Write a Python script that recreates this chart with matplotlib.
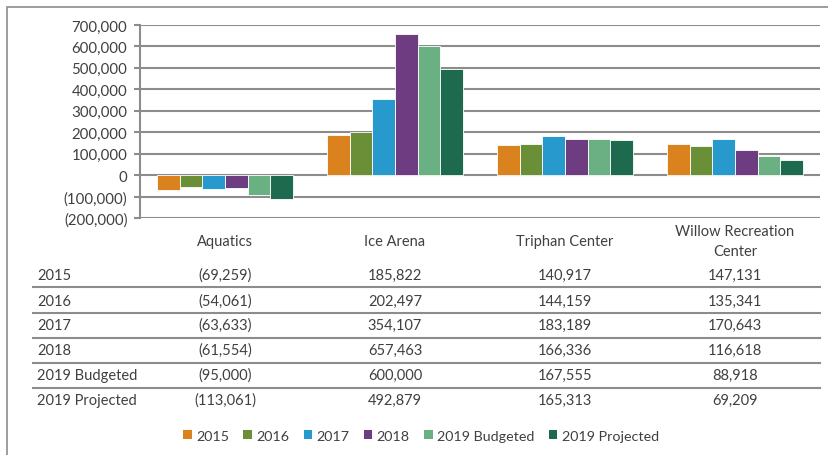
import matplotlib
matplotlib.use("Agg")
import matplotlib.pyplot as plt
import matplotlib.transforms as mtransforms
from matplotlib.patches import Rectangle, Patch
from matplotlib.lines import Line2D
import numpy as np

plt.rcParams['font.family'] = ['Lato', 'DejaVu Sans']

categories = ["Aquatics", "Ice Arena", "Triphan Center", "Willow Recreation\nCenter"]
series_names = ["2015", "2016", "2017", "2018", "2019 Budgeted", "2019 Projected"]
v2015 = [-69259, 185822, 140917, 147131]
v2016 = [-54061, 202497, 144159, 135341]
v2017 = [-63633, 354107, 183189, 170643]
v2018 = [-61554, 657463, 166336, 116618]
v2019b = [-95000, 600000, 167555, 88918]
v2019p = [-113061, 492879, 165313, 69209]
series = [v2015, v2016, v2017, v2018, v2019b, v2019p]
colors = ["#DA831E", "#6A8F37", "#2899CC", "#6E3C80", "#6AB083", "#1E6A4E"]
yticks = [-200000, -100000, 0, 100000, 200000, 300000, 400000, 500000, 600000, 700000]

W, H = 829, 456
fig = plt.figure(figsize=(W / 100, H / 100), dpi=100)
TC = "#404040"
GRID = "#8C8C8C"

def fx(px):
    return px / W

def fy(py):
    return 1 - py / H

ax = fig.add_axes([fx(140), fy(219), fx(820) - fx(140), fy(26) - fy(219)])
n = len(series)
x = np.arange(len(categories))
group = 0.8
bw = group / n
for i, (vals, c, name) in enumerate(zip(series, colors, series_names)):
    ax.bar(x - group / 2 + bw * (i + 0.5), vals, width=bw, color=c,
           edgecolor="white", linewidth=0.6, label=name, zorder=3)

ax.set_xlim(-0.5, len(categories) - 0.5)
ax.set_ylim(-200000, 700000)
ax.set_yticks(yticks)

def fmt(v):
    return f"({abs(v):,.0f})" if v < 0 else f"{v:,.0f}"

ax.set_yticklabels([fmt(v) for v in yticks], fontsize=10.8, color=TC)
ax.set_xticks([])
ax.yaxis.grid(True, color=GRID, linewidth=1.5, zorder=0)
for s in ["top", "right", "bottom"]:
    ax.spines[s].set_visible(False)
ax.spines["left"].set_color(GRID)
ax.spines["left"].set_linewidth(1.5)
ax.tick_params(axis="y", length=4.5, width=1.5, color=GRID, pad=4.5)

# data table
blend = mtransforms.blended_transform_factory(ax.transData, fig.transFigure)
for j, cat in enumerate(categories):
    ax.text(j, fy(242), cat, transform=blend, ha="center", va="center",
            fontsize=10.5, color=TC, linespacing=1.6)

row_y = [276, 302, 326, 351, 376, 401]
line_y = [288, 314, 339, 364, 389]
for r, (name, vals) in enumerate(zip(series_names, series)):
    fig.text(fx(37), fy(row_y[r]), name, ha="left", va="center", fontsize=10.5, color=TC)
    for j, v in enumerate(vals):
        ax.text(j, fy(row_y[r]), fmt(v), transform=blend, ha="center", va="center",
                fontsize=10.5, color=TC)
for ly in line_y:
    fig.add_artist(Line2D([fx(33), fx(820)], [fy(ly), fy(ly)], color=GRID, linewidth=1.5,
                          transform=fig.transFigure))

# legend
handles = [Patch(facecolor=c, edgecolor="none", label=nm) for c, nm in zip(colors, series_names)]
fig.legend(handles=handles, loc="center", bbox_to_anchor=(fx(421), fy(437)), ncol=6,
           frameon=False, fontsize=10.3, handlelength=0.6, handleheight=0.6,
           handletextpad=0.3, columnspacing=1.0, labelcolor=TC)

# outer frame
fig.add_artist(Rectangle((fx(7), fy(470)), fx(900), fy(8) - fy(470), fill=False,
                         edgecolor="#8C8C8C", linewidth=1.2, transform=fig.transFigure))

fig.savefig("out.png", dpi=100, facecolor="white")
